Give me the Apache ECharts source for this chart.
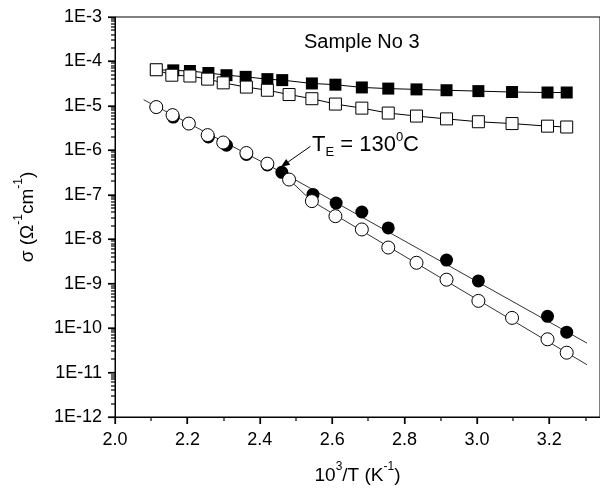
<!DOCTYPE html>
<html>
<head>
<meta charset="utf-8">
<script src="https://cdn.jsdelivr.net/npm/echarts@6/dist/echarts.min.js"></script>
<style>
  html, body { margin: 0; padding: 0; background: #fff; }
  #chart { width: 600px; height: 493px; }
</style>
</head>
<body>
<div id="chart"></div>
<script>
// 数据：点 (x = 10^3/T, y = σ)
const filledSqX = [2.114, 2.161, 2.207, 2.258, 2.308, 2.361, 2.421, 2.462, 2.544, 2.609, 2.682, 2.755, 2.833, 2.916, 3.004, 3.097, 3.195, 3.248];
const filledSqY = [6.5e-5, 6.3e-5, 6.1e-5, 5.5e-5, 4.9e-5, 4.5e-5, 4.0e-5, 3.8e-5, 3.2e-5, 3.0e-5, 2.6e-5, 2.45e-5, 2.35e-5, 2.25e-5, 2.15e-5, 2.05e-5, 2.0e-5, 2.0e-5];

const openSqX = [2.114, 2.157, 2.207, 2.256, 2.299, 2.363, 2.421, 2.481, 2.544, 2.609, 2.682, 2.755, 2.833, 2.916, 3.004, 3.097, 3.195, 3.248];
const openSqY = [6.5e-5, 4.9e-5, 4.7e-5, 4.0e-5, 3.3e-5, 2.65e-5, 2.25e-5, 1.8e-5, 1.45e-5, 1.1e-5, 8.9e-6, 6.9e-6, 5.9e-6, 5.1e-6, 4.4e-6, 4.0e-6, 3.5e-6, 3.35e-6];

const filledCirX = [2.114, 2.161, 2.204, 2.258, 2.308, 2.363, 2.421, 2.461, 2.547, 2.611, 2.682, 2.755, 2.916, 3.004, 3.195, 3.248];
const filledCirY = [9.4e-6, 5.6e-6, 4.0e-6, 2.0e-6, 1.3e-6, 8.1e-7, 4.7e-7, 3.2e-7, 1.02e-7, 6.5e-8, 4.1e-8, 1.8e-8, 3.4e-9, 1.15e-9, 1.84e-10, 8.1e-11];

const openCirX = [2.114, 2.159, 2.204, 2.256, 2.299, 2.363, 2.421, 2.481, 2.544, 2.609, 2.682, 2.755, 2.833, 2.916, 3.004, 3.097, 3.195, 3.248];
const openCirY = [9.4e-6, 6.2e-6, 4.0e-6, 2.2e-6, 1.5e-6, 8.7e-7, 5.0e-7, 2.2e-7, 7.2e-8, 3.3e-8, 1.66e-8, 6.5e-9, 2.95e-9, 1.23e-9, 4.1e-10, 1.7e-10, 5.6e-11, 2.8e-11];

// 拟合直线
const fitLeftX = [2.079, 2.461];
const fitLeftY = [1.38e-5, 3.2e-7];
const fitFilledX = [2.461, 3.304];
const fitFilledY = [3.2e-7, 4.6e-11];
const fitOpenX = [2.481, 2.544, 3.304];
const fitOpenY = [2.2e-7, 7.2e-8, 1.5e-11];

// T_E 箭头
const arrowFrom = [2.540, 1.23e-6];
const arrowTo = [2.458, 4.2e-7];

// 刻度
const yMajorTicks = [1e-12, 1e-11, 1e-10, 1e-9, 1e-8, 1e-7, 1e-6, 1e-5, 1e-4, 1e-3];
const yMinorTicks = [];
for (let i = 0; i < yMajorTicks.length - 1; i++) {
    for (let k = 2; k <= 9; k++) yMinorTicks.push(k * yMajorTicks[i]);
}
const xMajorTicks = [2.0, 2.2, 2.4, 2.6, 2.8, 3.0, 3.2];
const xMinorTicks = [2.1, 2.3, 2.5, 2.7, 2.9, 3.1, 3.3];

const FONT = "'Liberation Sans', Arial, Helvetica, sans-serif";
const zip = (xs, ys) => xs.map((x, i) => [x, ys[i]]);

const chart = echarts.init(document.getElementById('chart'));

const GRID = { left: 115, right: -2, top: 17, bottom: 76 };
const fitStyle = { color: '#333', width: 1 };
const xMin = 2.0, xMax = 3.340;

const option = {
    animation: false,
    backgroundColor: '#fff',
    grid: Object.assign({ show: true, borderColor: '#000', borderWidth: 1 }, GRID),
    xAxis: {
        type: 'value', min: xMin, max: xMax, interval: 0.2,
        splitLine: { show: false },
        axisLine: { show: true, lineStyle: { color: '#000', width: 1 } },
        axisTick: { show: true, length: 7, lineStyle: { color: '#000', width: 1.2 } },
        axisLabel: { color: '#000', fontSize: 18, fontFamily: FONT, margin: 14, showMaxLabel: false,
            formatter: v => v.toFixed(1) },
        name: '{b|10}{s|3}{b|/T (K}{s|-1}{b|)}',
        nameLocation: 'middle', nameGap: 44,
        nameTextStyle: { rich: {
            b: { fontSize: 19, fontFamily: FONT, color: '#000', lineHeight: 24, verticalAlign: 'bottom' },
            s: { fontSize: 12, fontFamily: FONT, color: '#000', lineHeight: 24, verticalAlign: 'top' }
        } }
    },
    yAxis: {
        type: 'log', logBase: 10, min: 1e-12, max: 1e-3,
        splitLine: { show: false },
        axisLine: { show: true, lineStyle: { color: '#000', width: 1 } },
        axisTick: { show: true, length: 7, lineStyle: { color: '#000', width: 1.2 }, customValues: yMajorTicks },
        axisLabel: { color: '#000', fontSize: 18, fontFamily: FONT, margin: 13, customValues: yMajorTicks,
            formatter: v => '1E' + Math.round(Math.log10(v)) },
        name: '{b|σ (Ω}{s|-1}{b|cm}{s|-1}{b|)}',
        nameLocation: 'middle', nameGap: 78,
        nameTextStyle: { rich: {
            b: { fontSize: 19, fontFamily: FONT, color: '#000', lineHeight: 24, verticalAlign: 'bottom' },
            s: { fontSize: 12, fontFamily: FONT, color: '#000', lineHeight: 24, verticalAlign: 'top' }
        } }
    },
    series: [{
        type: 'line', data: zip(fitLeftX, fitLeftY), symbol: 'none', lineStyle: fitStyle, z: 1
    }, {
        type: 'line', data: zip(fitFilledX, fitFilledY), symbol: 'none', lineStyle: fitStyle, z: 1
    }, {
        type: 'line', data: zip(fitOpenX, fitOpenY), symbol: 'none', lineStyle: fitStyle, z: 1
    }, {
        type: 'line', data: zip(filledSqX, filledSqY), symbol: 'rect', symbolSize: 12,
        showAllSymbol: true, itemStyle: { color: '#000', opacity: 1 }, lineStyle: { color: '#000', width: 1 }, z: 2
    }, {
        type: 'line', data: zip(openSqX, openSqY), symbol: 'rect', symbolSize: 12,
        showAllSymbol: true, itemStyle: { color: '#fff', borderColor: '#000', borderWidth: 1, opacity: 1 },
        lineStyle: { color: '#000', width: 1 }, z: 3
    }, {
        type: 'scatter', data: zip(filledCirX, filledCirY), symbol: 'circle', symbolSize: 13,
        itemStyle: { color: '#000', opacity: 1 }, z: 4
    }, {
        type: 'scatter', data: zip(openCirX, openCirY), symbol: 'circle', symbolSize: 13,
        itemStyle: { color: '#fff', borderColor: '#000', borderWidth: 1, opacity: 1 }, z: 5
    }]
};

chart.setOption(option);

// 刻度、箭头和文字：用坐标轴换算出像素位置后再画
const toPx = p => chart.convertToPixel({ gridIndex: 0 }, p);
const axisX = GRID.left;                       // y 轴所在的像素列
const axisY = chart.getHeight() - GRID.bottom; // x 轴所在的像素行
const graphics = [];

function yTick(v, len) {
    const y = Math.round(toPx([2.5, v])[1]);
    graphics.push({ type: 'rect', silent: true, z: 20,
        shape: { x: axisX - len, y: y - 0.6, width: len, height: 1.2 }, style: { fill: '#000' } });
}
function xTick(v, len) {
    const x = Math.round(toPx([v, 1e-6])[0]);
    graphics.push({ type: 'rect', silent: true, z: 20,
        shape: { x: x - 0.6, y: axisY, width: 1.2, height: len }, style: { fill: '#000' } });
}
yMajorTicks.forEach(v => yTick(v, 7));
yMinorTicks.forEach(v => yTick(v, 4));
xMajorTicks.forEach(v => xTick(v, 7));
xMinorTicks.forEach(v => xTick(v, 4));

// T_E 箭头
const a = toPx(arrowFrom), b = toPx(arrowTo);
const ang = Math.atan2(b[1] - a[1], b[0] - a[0]);
const headLen = 9, headW = 3.5;
const bx = b[0] - headLen * Math.cos(ang), by = b[1] - headLen * Math.sin(ang);
graphics.push({ type: 'line', silent: true, shape: { x1: a[0], y1: a[1], x2: bx, y2: by },
    style: { stroke: '#000', lineWidth: 1 }, z: 10 });
graphics.push({ type: 'polygon', silent: true, shape: { points: [
        b,
        [bx + headW * Math.sin(ang), by - headW * Math.cos(ang)],
        [bx - headW * Math.sin(ang), by + headW * Math.cos(ang)]
    ] }, style: { fill: '#000' }, z: 10 });

graphics.push({
    type: 'text', left: 304, top: 32, z: 10,
    style: { text: 'Sample No 3', fontSize: 20, fontFamily: FONT, fill: '#000' }
});
graphics.push({
    type: 'text', left: 312, top: 131, z: 10,
    style: {
        text: '{t|T}{sub|E}{t| = 130}{sup|0}{t|C}',
        rich: {
            t: { fontSize: 22, fontFamily: FONT, fill: '#000', lineHeight: 28, verticalAlign: 'middle' },
            sub: { fontSize: 13, fontFamily: FONT, fill: '#000', lineHeight: 28, verticalAlign: 'bottom' },
            sup: { fontSize: 13, fontFamily: FONT, fill: '#000', lineHeight: 28, verticalAlign: 'top' }
        }
    }
});

chart.setOption({ graphic: graphics });
</script>
</body>
</html>
